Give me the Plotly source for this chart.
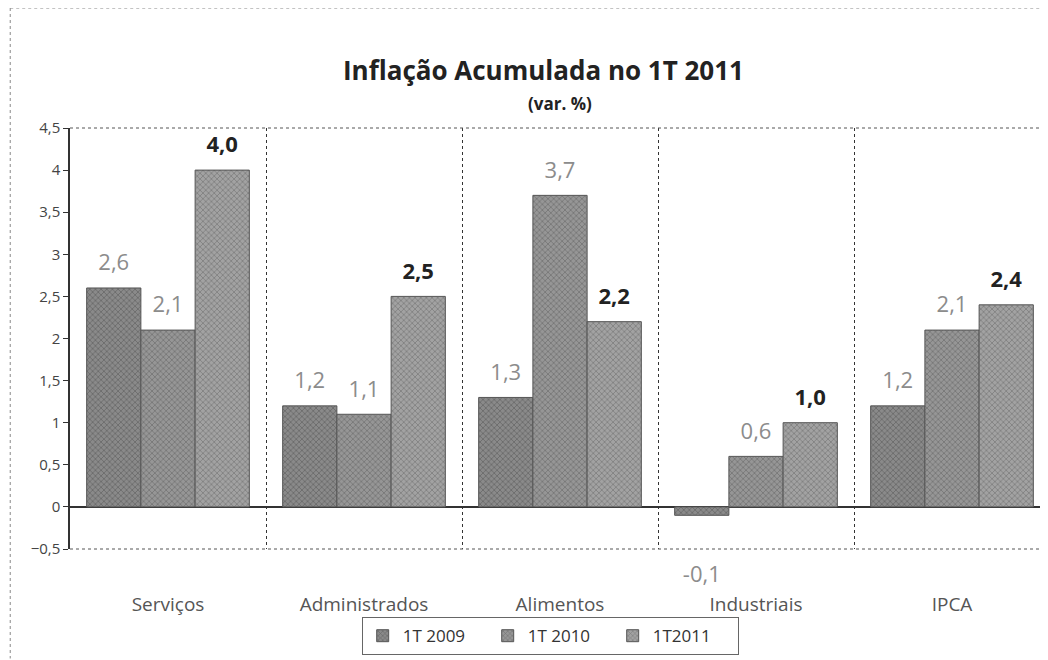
import plotly.graph_objects as go

categories = ["Serviços", "Administrados", "Alimentos", "Industriais", "IPCA"]
series_names = ["1T 2009", "1T 2010", "1T2011"]
v2009 = [2.6, 1.2, 1.3, -0.1, 1.2]
v2010 = [2.1, 1.1, 3.7, 0.6, 2.1]
v2011 = [4.0, 2.5, 2.2, 1.0, 2.4]
y_ticks = [-0.5, 0, 0.5, 1, 1.5, 2, 2.5, 3, 3.5, 4, 4.5]

FONT = "Open Sans"
GAP = 0.17

def fmt(v):
    return f"{v:.1f}".replace(".", ",")

styles = [
    dict(color="#8a8a8a", fg="#444444", txt="#8c8c8c", bold=False),
    dict(color="#969696", fg="#505050", txt="#8c8c8c", bold=False),
    dict(color="#a2a2a2", fg="#585858", txt="#222222", bold=True),
]

fig = go.Figure()
for name, vals, st in zip(series_names, [v2009, v2010, v2011], styles):
    fig.add_trace(go.Bar(
        name=name, x=categories, y=vals,
        marker=dict(color=st["color"], line=dict(color="#555555", width=1),
                    pattern=dict(shape="x", size=4, fgcolor=st["fg"], solidity=0.35)),
    ))
for name, vals, st in zip(series_names, [v2009, v2010, v2011], styles):
    fig.add_trace(go.Scatter(
        x=categories, y=vals, mode="markers+text", showlegend=False, hoverinfo="skip",
        text=[(f"<b>{fmt(v)}</b>" if st["bold"] else fmt(v)) for v in vals],
        textposition=["top center" if v >= 0 else "bottom center" for v in vals],
        marker=dict(size=[18 if v >= 0 else 78 for v in vals], opacity=0),
        textfont=dict(family=FONT, size=22, color=st["txt"]),
        cliponaxis=False,
    ))

fig.update_layout(
    width=1048, height=660,
    paper_bgcolor="white", plot_bgcolor="white",
    separators=",.",
    barmode="group", bargap=GAP, bargroupgap=0,
    scattermode="group", scattergap=GAP,
    margin=dict(l=62, r=6, t=120, b=119),
    font=dict(family=FONT, color="#444444"),
    showlegend=True,
    legend=dict(orientation="h", x=0.49, xanchor="center", y=-0.207, yanchor="middle",
                font=dict(family=FONT, size=17, color="#333333"),
                bordercolor="#666666", borderwidth=1, itemwidth=30,
                entrywidth=80, entrywidthmode="pixels", traceorder="normal"),
    annotations=[
        dict(text="<b>Inflação Acumulada no 1T 2011</b>", xref="paper", yref="paper",
             x=0.483, y=1.138, xanchor="center", yanchor="middle", showarrow=False,
             font=dict(family=FONT, size=26, color="#222222")),
        dict(text="<b>(var. %)</b>", xref="paper", yref="paper",
             x=0.50, y=1.059, xanchor="center", yanchor="middle", showarrow=False,
             font=dict(family=FONT, size=17, color="#222222")),
    ],
)

fig.update_xaxes(showline=False, showgrid=True, tickson="boundaries",
                 gridcolor="#333333", gridwidth=1, griddash="dot",
                 ticks="", tickfont=dict(family=FONT, size=19, color="#555555"),
                 ticklabelstandoff=42)
fig.update_yaxes(range=[-0.5, 4.5], tickvals=y_ticks, showgrid=False,
                 showline=True, linecolor="#333333", linewidth=1.5,
                 ticks="outside", ticklen=5, tickcolor="#333333",
                 zeroline=True, zerolinecolor="#333333", zerolinewidth=1.5,
                 tickfont=dict(family=FONT, size=15, color="#444444"))

# dotted top and bottom borders of plot area
for yv in [0, 1]:
    fig.add_shape(type="line", xref="paper", yref="paper", x0=0, x1=1, y0=yv, y1=yv,
                  line=dict(color="#555555", width=1, dash="dot"))
# outer chart border (dotted)
fig.add_shape(type="line", xref="paper", yref="paper", x0=-0.061, x1=1.0, y0=1.285, y1=1.285,
              line=dict(color="#888888", width=1, dash="dot"))
fig.add_shape(type="line", xref="paper", yref="paper", x0=-0.061, x1=-0.061, y0=1.285, y1=-0.26,
              line=dict(color="#888888", width=1, dash="dot"))

fig.write_html("out.html")
